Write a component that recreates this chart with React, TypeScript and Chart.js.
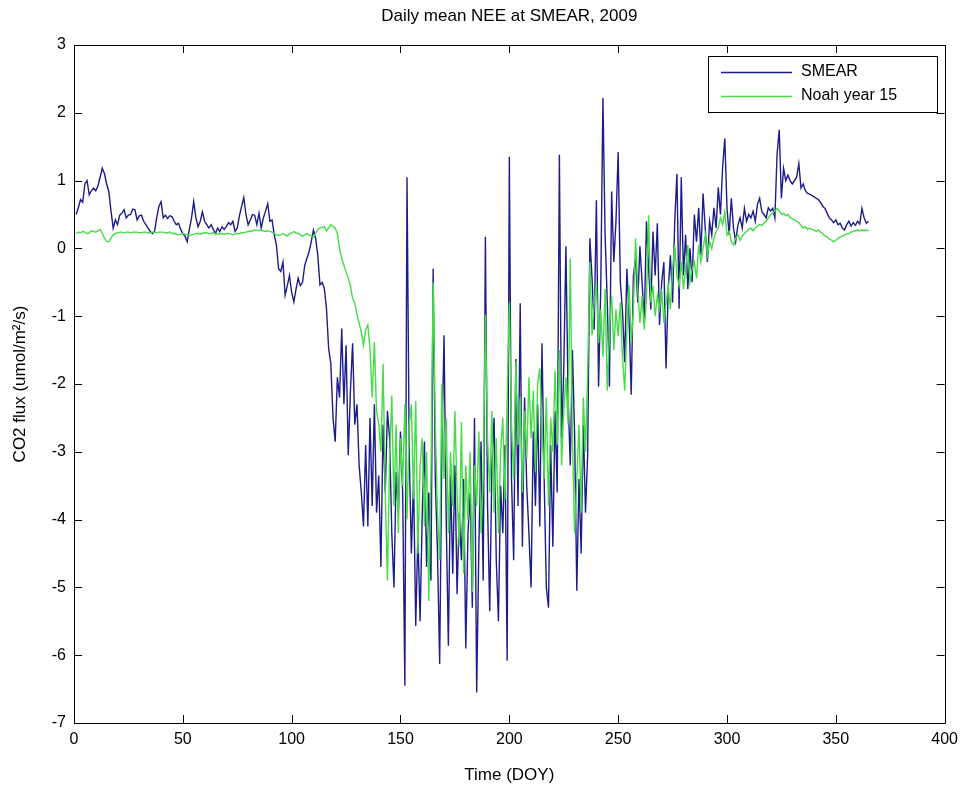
import React, { useEffect, useRef } from "react";
import { Chart, registerables } from "chart.js";

Chart.register(...registerables);

const TITLE = "Daily mean NEE at SMEAR, 2009";
const X_LABEL = "Time (DOY)";
const Y_LABEL = "CO2 flux (umol/m\u00B2/s)";
const SERIES_NAMES = ["SMEAR", "Noah year 15"];
const SERIES_COLORS = ["#1c1c8c", "#44dd44"];
const X_TICKS = [0, 50, 100, 150, 200, 250, 300, 350, 400];
const Y_TICKS = [-7, -6, -5, -4, -3, -2, -1, 0, 1, 2, 3];

// Daily mean NEE, SMEAR observations (DOY 1..365)
const SMEAR: number[] = [
  0.50, 0.60, 0.72, 0.68, 0.95, 1.00, 0.79, 0.85, 0.89, 0.85,
  0.92, 1.05, 1.18, 1.10, 0.95, 0.84, 0.55, 0.30, 0.42, 0.35,
  0.49, 0.52, 0.57, 0.45, 0.49, 0.50, 0.58, 0.57, 0.42, 0.48,
  0.49, 0.40, 0.35, 0.30, 0.25, 0.22, 0.25, 0.45, 0.62, 0.69,
  0.45, 0.49, 0.44, 0.48, 0.47, 0.40, 0.35, 0.37, 0.28, 0.22,
  0.18, 0.10, 0.28, 0.45, 0.69, 0.45, 0.32, 0.40, 0.54, 0.40,
  0.35, 0.30, 0.35, 0.28, 0.22, 0.30, 0.25, 0.32, 0.28, 0.32,
  0.38, 0.35, 0.40, 0.25, 0.30, 0.48, 0.62, 0.75, 0.50, 0.35,
  0.42, 0.50, 0.49, 0.35, 0.52, 0.30, 0.45, 0.55, 0.66, 0.40,
  0.42, 0.20, 0.05, -0.30, -0.34, -0.20, -0.69, -0.55, -0.40, -0.65,
  -0.79, -0.60, -0.44, -0.55, -0.50, -0.25, -0.15, -0.05, 0.10, 0.27,
  0.15, -0.10, -0.54, -0.50, -0.59, -0.89, -1.48, -1.70, -2.50, -2.85,
  -1.90, -2.20, -1.18, -2.30, -1.43, -3.05, -2.10, -1.40, -2.60, -2.30,
  -3.20, -3.60, -4.10, -2.90, -4.10, -2.50, -3.80, -2.30, -3.90, -3.35,
  -4.70, -2.60, -3.60, -2.40, -2.80, -4.20, -5.00, -3.30, -3.90, -2.70,
  -3.60, -6.45, 1.05, -3.00, -4.50, -3.40, -5.57, -4.20, -5.50, -3.90,
  -2.85, -4.70, -3.60, -4.90, -0.30, -3.40, -4.50, -6.13, -3.00, -1.28,
  -4.00, -5.86, -3.35, -4.80, -3.20, -5.10, -3.90, -4.60, -3.40, -5.90,
  -4.20, -3.60, -5.30, -2.50, -6.55, -4.40, -2.85, -4.90, 0.17, -3.80,
  -5.35, -3.20, -2.50, -4.60, -5.50, -3.50, -4.20, -2.90, -6.08, 1.35,
  -3.40, -4.60, -1.63, -3.80, -0.81, -4.40, -2.20, -3.50, -4.20, -5.00,
  -2.70, -3.80, -2.30, -4.10, -1.40, -3.40, -5.00, -5.30, -2.90, -4.40,
  -2.40, -3.60, 1.38, -2.80, -1.80, 0.03, -2.20, -3.20, -1.50, -2.75,
  -5.05, -3.40, -4.50, -2.60, -3.90, -3.04, 0.15, -0.44, -1.20, 0.71,
  -2.04, -0.60, 2.22, 0.20, -0.80, -2.04, 0.84, -0.20, 0.40, 1.42,
  -0.50, -0.93, -1.68, -0.30, -1.00, -2.16, -0.40, -0.15, -0.80, 0.03,
  -0.50, -1.10, 0.40, -0.30, -0.90, 0.25, -0.40, 0.37, -1.13, -0.50,
  -0.20, -1.77, -0.60, -0.10, -0.80, 0.40, 1.10, -0.89, 1.05, -0.40,
  0.20, -0.60, 0.00, -0.50, 0.50, 0.10, 0.60, -0.10, 0.81, 0.30,
  -0.20, 0.40, 0.20, 0.60, 0.30, 0.90, 0.50, 1.20, 1.62, 0.60,
  0.20, 0.74, 0.30, 0.10, 0.34, 0.45, 0.30, 0.59, 0.40, 0.50,
  0.45, 0.55, 0.40, 0.65, 0.74, 0.54, 0.50, 0.45, 0.60, 0.55,
  0.59, 0.45, 1.38, 1.75, 0.74, 1.18, 1.00, 1.08, 1.00, 0.95,
  1.00, 1.05, 1.25, 0.89, 0.95, 0.85, 0.81, 0.80, 0.78, 0.76,
  0.74, 0.72, 0.68, 0.62, 0.59, 0.52, 0.45, 0.42, 0.38, 0.42,
  0.35, 0.37, 0.30, 0.27, 0.35, 0.40, 0.33, 0.38, 0.34, 0.40,
  0.36, 0.59, 0.45, 0.37, 0.40,
];

// Daily mean NEE, Noah model year 15 (DOY 1..365)
const NOAH: number[] = [
  0.22, 0.24, 0.23, 0.25, 0.24, 0.22, 0.23, 0.26, 0.25, 0.24,
  0.26, 0.28, 0.22, 0.15, 0.10, 0.10, 0.15, 0.20, 0.22, 0.23,
  0.24, 0.24, 0.23, 0.24, 0.24, 0.23, 0.24, 0.24, 0.24, 0.23,
  0.23, 0.24, 0.24, 0.23, 0.23, 0.24, 0.24, 0.23, 0.24, 0.24,
  0.24, 0.23, 0.23, 0.24, 0.22, 0.22, 0.21, 0.20, 0.21, 0.22,
  0.21, 0.20, 0.19, 0.20, 0.21, 0.22, 0.22, 0.21, 0.22, 0.23,
  0.23, 0.22, 0.22, 0.23, 0.22, 0.21, 0.22, 0.22, 0.21, 0.22,
  0.22, 0.21, 0.20, 0.21, 0.22, 0.22, 0.23, 0.23, 0.24, 0.25,
  0.25, 0.26, 0.27, 0.27, 0.26, 0.27, 0.26, 0.25, 0.26, 0.25,
  0.24, 0.22, 0.20, 0.19, 0.20, 0.22, 0.20, 0.18, 0.22, 0.23,
  0.25, 0.23, 0.22, 0.20, 0.18, 0.20, 0.22, 0.20, 0.18, 0.17,
  0.22, 0.28, 0.30, 0.31, 0.32, 0.26, 0.30, 0.35, 0.32, 0.30,
  0.22, 0.00, -0.15, -0.25, -0.35, -0.44, -0.55, -0.74, -0.80, -0.98,
  -1.10, -1.23, -1.43, -1.20, -1.13, -1.48, -2.20, -1.38, -2.40, -2.60,
  -3.00, -1.70, -3.60, -4.90, -3.10, -2.17, -3.80, -2.60, -4.20, -2.80,
  -3.50, -2.30, -4.00, -2.60, -2.30, -3.70, -2.25, -4.50, -3.20, -2.80,
  -4.10, -3.00, -5.20, -3.30, -0.50, -2.60, -3.90, -4.60, -2.00, -3.40,
  -2.50, -4.20, -3.00, -3.80, -2.40, -3.60, -4.40, -2.56, -4.80, -3.20,
  -4.00, -3.00, -5.07, -3.20, -3.80, -2.70, -4.20, -3.40, -0.98, -2.80,
  -3.60, -2.40, -3.90, -2.80, -4.20, -3.00, -2.50, -3.70, -2.20, -0.79,
  -2.60, -3.40, -1.67, -2.90, -2.20, -3.60, -2.40, -3.10, -1.90, -2.80,
  -2.10, -3.30, -2.00, -1.77, -2.60, -3.40, -2.20, -3.80, -2.50, -3.00,
  -1.80, -2.90, -1.50, -3.20, -2.40, -1.90, -2.60, -0.15, -2.80, -4.20,
  -3.40, -2.60, -3.90, -2.20, -3.00, -1.80, -0.20, -1.28, -0.80, -0.50,
  -1.40, -0.90, -1.60, -0.60, -2.10, -1.20, -0.70, -1.50, -0.90, -1.30,
  -0.80, -1.60, -2.10, -1.20, -0.54, -1.40, -0.90, 0.15, -0.60, -1.10,
  -0.70, -1.20, -0.74, 0.49, -0.80, -0.55, -1.00, -0.70, -0.90, -0.60,
  -1.10, -0.80, -0.55, -0.90, -0.30, 0.05, -0.40, -0.55, -0.20, -0.60,
  -0.30, 0.05, -0.50, -0.30, -0.20, -0.44, 0.05, -0.20, 0.00, 0.20,
  -0.10, 0.10, 0.00, 0.15, 0.25, 0.30, 0.45, 0.35, 0.54, 0.20,
  0.25, 0.10, 0.05, 0.15, 0.20, 0.12, 0.18, 0.22, 0.25, 0.28,
  0.30, 0.26, 0.30, 0.33, 0.35, 0.34, 0.37, 0.40, 0.45, 0.50,
  0.52, 0.55, 0.59, 0.55, 0.50, 0.52, 0.48, 0.50, 0.45, 0.44,
  0.42, 0.40, 0.38, 0.34, 0.30, 0.32, 0.28, 0.30, 0.28, 0.27,
  0.25, 0.27, 0.24, 0.22, 0.18, 0.17, 0.14, 0.12, 0.10, 0.12,
  0.15, 0.17, 0.18, 0.20, 0.21, 0.22, 0.24, 0.25, 0.26, 0.27,
  0.26, 0.27, 0.26, 0.27, 0.26,
];

const FONT_FAMILY = '"Liberation Sans", Arial, Helvetica, sans-serif';

const toPoints = (vals: number[]) => vals.map((v, i) => ({ x: i + 1, y: v }));

const matlabDecor = {
  id: "matlabDecor",
  afterDatasetsDraw(chart: any) {
    const { ctx, chartArea, scales } = chart;
    const { left, right, top, bottom } = chartArea;
    const xs = scales.x;
    const ys = scales.y;
    ctx.save();
    ctx.strokeStyle = "#000";
    ctx.lineWidth = 1;
    ctx.beginPath();
    ctx.rect(Math.round(left) + 0.5, Math.round(top) + 0.5, Math.round(right - left), Math.round(bottom - top));
    ctx.stroke();
    const tl = 8;
    ctx.beginPath();
    X_TICKS.forEach((v) => {
      const px = Math.round(xs.getPixelForValue(v)) + 0.5;
      ctx.moveTo(px, bottom);
      ctx.lineTo(px, bottom - tl);
      ctx.moveTo(px, top);
      ctx.lineTo(px, top + tl);
    });
    Y_TICKS.forEach((v) => {
      const py = Math.round(ys.getPixelForValue(v)) + 0.5;
      ctx.moveTo(left, py);
      ctx.lineTo(left + tl, py);
      ctx.moveTo(right, py);
      ctx.lineTo(right - tl, py);
    });
    ctx.stroke();

    ctx.fillStyle = "#000";
    ctx.font = `17px ${FONT_FAMILY}`;
    ctx.textAlign = "center";
    ctx.textBaseline = "middle";
    const cx = (left + right) / 2;
    ctx.fillText(TITLE, cx, 16);
    ctx.fillText(X_LABEL, cx, 775);
    ctx.save();
    ctx.translate(20, (top + bottom) / 2);
    ctx.rotate(-Math.PI / 2);
    ctx.fillText(Y_LABEL, 0, 0);
    ctx.restore();

    const lx = 708, ly = 56, lw = 229, lh = 56;
    ctx.fillStyle = "#fff";
    ctx.fillRect(lx, ly, lw, lh);
    ctx.strokeStyle = "#000";
    ctx.lineWidth = 1;
    ctx.strokeRect(lx + 0.5, ly + 0.5, lw, lh);
    const rowsY = [72, 96];
    chart.data.datasets.forEach((ds: any, i: number) => {
      const yy = rowsY[i] + 0.5;
      ctx.strokeStyle = ds.borderColor;
      ctx.lineWidth = 1.5;
      ctx.beginPath();
      ctx.moveTo(721, yy);
      ctx.lineTo(792, yy);
      ctx.stroke();
      ctx.fillStyle = "#000";
      ctx.textAlign = "left";
      ctx.font = `16px ${FONT_FAMILY}`;
      ctx.fillText(ds.label, 801, rowsY[i]);
    });
    ctx.restore();
  },
};

export default function App() {
  const canvasRef = useRef<HTMLCanvasElement | null>(null);

  useEffect(() => {
    if (!canvasRef.current) return;
    const chart = new Chart(canvasRef.current, {
      type: "line",
      data: {
        datasets: [
          {
            label: SERIES_NAMES[0],
            data: toPoints(SMEAR),
            borderColor: SERIES_COLORS[0],
            backgroundColor: SERIES_COLORS[0],
            borderWidth: 1.4,
            pointRadius: 0,
            tension: 0,
            order: 2,
          },
          {
            label: SERIES_NAMES[1],
            data: toPoints(NOAH),
            borderColor: SERIES_COLORS[1],
            backgroundColor: SERIES_COLORS[1],
            borderWidth: 1.4,
            pointRadius: 0,
            tension: 0,
            order: 1,
          },
        ],
      },
      options: {
        animation: false,
        responsive: true,
        maintainAspectRatio: false,
        layout: { padding: { left: 0, right: 17, top: 45, bottom: 0 } },
        plugins: {
          legend: { display: false },
          title: { display: false },
          tooltip: { enabled: false },
        },
        scales: {
          x: {
            type: "linear",
            min: 0,
            max: 400,
            afterFit: (s: any) => {
              s.height = 70;
            },
            afterBuildTicks: (s: any) => {
              s.ticks = X_TICKS.map((v) => ({ value: v }));
            },
            grid: { display: false, drawTicks: false },
            border: { display: false },
            ticks: {
              autoSkip: false,
              maxRotation: 0,
              padding: 7,
              color: "#000",
              font: { family: FONT_FAMILY, size: 16 },
            },
          },
          y: {
            type: "linear",
            min: -7,
            max: 3,
            afterFit: (s: any) => {
              s.width = 74;
            },
            afterBuildTicks: (s: any) => {
              s.ticks = Y_TICKS.map((v) => ({ value: v }));
            },
            grid: { display: false, drawTicks: false },
            border: { display: false },
            ticks: {
              autoSkip: false,
              padding: 8,
              color: "#000",
              font: { family: FONT_FAMILY, size: 16 },
            },
          },
        },
      },
      plugins: [matlabDecor],
    });
    return () => chart.destroy();
  }, []);

  return (
    <div
      style={{
        position: "absolute",
        left: 0,
        top: 0,
        width: 965,
        height: 793,
        background: "#fff",
      }}
    >
      <canvas ref={canvasRef} />
    </div>
  );
}
